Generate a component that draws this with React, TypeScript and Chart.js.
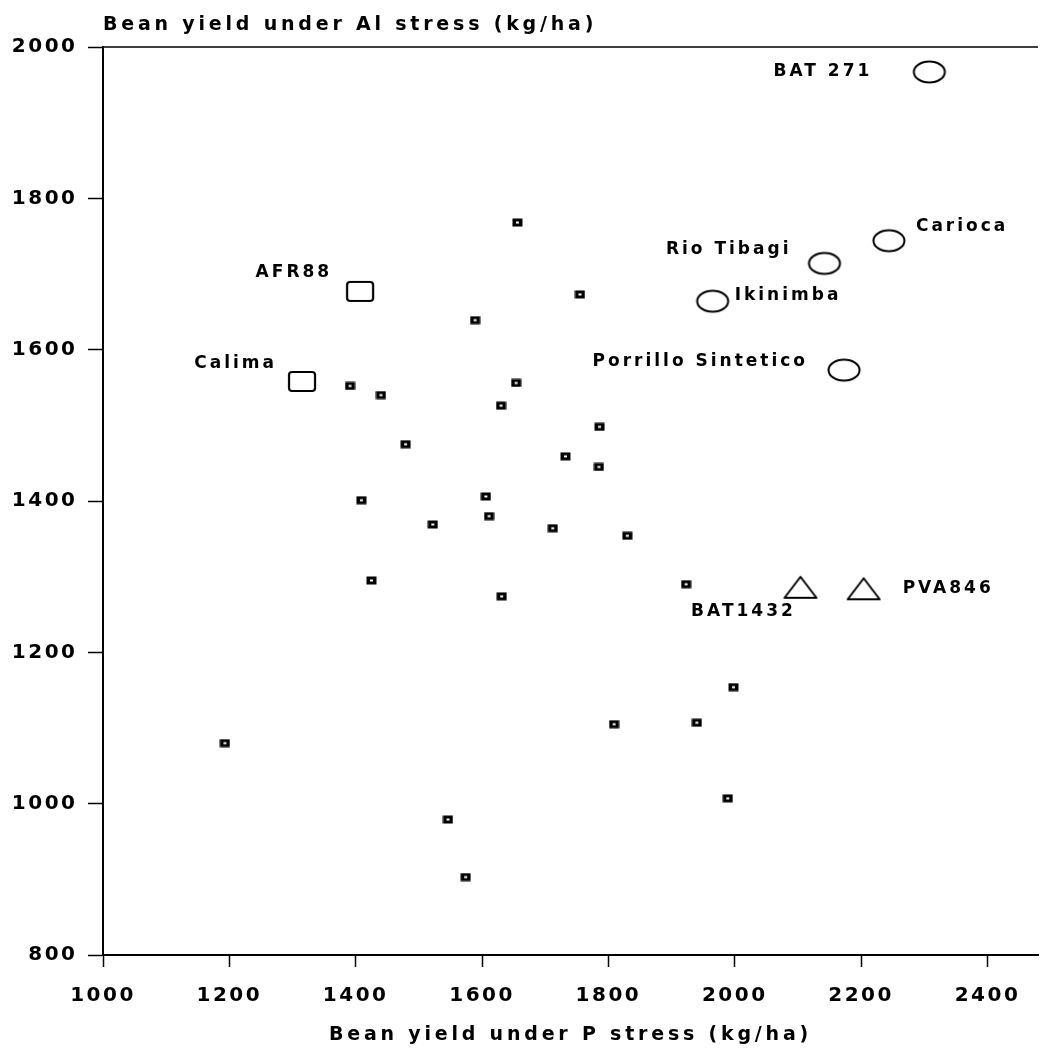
import React, { useEffect, useRef } from 'react';
import { Chart, registerables } from 'chart.js';

Chart.register(...registerables);

// ---- axis setup ----
const xTicks = [1000, 1200, 1400, 1600, 1800, 2000, 2200, 2400];
const yTicks = [800, 1000, 1200, 1400, 1600, 1800, 2000];
const X_MIN = 1000;
const X_MAX = 2480;
const Y_MIN = 800;
const Y_MAX = 2000;

const yTitle = 'Bean yield under Al stress (kg/ha)';
const xTitle = 'Bean yield under P stress (kg/ha)';

// ---- unlabeled genotypes ----
const otherX = [1656, 1755, 1589, 1391, 1440, 1654, 1630, 1786, 1479, 1732, 1785, 1409, 1606, 1611, 1522, 1712, 1830, 1425, 1631, 1923, 1998, 1809, 1940, 1193, 1989, 1546, 1574];
const otherY = [1768, 1673, 1639, 1552, 1540, 1556, 1526, 1498, 1475, 1459, 1445, 1401, 1406, 1380, 1369, 1364, 1354, 1295, 1274, 1290, 1154, 1105, 1107, 1080, 1007, 979, 903];

// ---- labeled genotypes (ellipses) ----
const circleNames = ['BAT 271', 'Carioca', 'Rio Tibagi', 'Ikinimba', 'Porrillo Sintetico'];
const circleX = [2308, 2244, 2142, 1965, 2173];
const circleY = [1967, 1744, 1714, 1664, 1573];

// ---- labeled genotypes (squares) ----
const squareNames = ['AFR88', 'Calima'];
const squareX = [1407, 1315];
const squareY = [1677, 1558];

// ---- labeled genotypes (triangles) ----
const triangleNames = ['BAT1432', 'PVA846'];
const triangleX = [2104, 2204];
const triangleY = [1286, 1284];

// label placement (style only)
const labelPlace: Record<string, { align: CanvasTextAlign; dx: number; dy: number }> = {
  'BAT 271': { align: 'right', dx: -57, dy: 0 },
  'Carioca': { align: 'left', dx: 27, dy: -14 },
  'Rio Tibagi': { align: 'right', dx: -33, dy: -14 },
  'Ikinimba': { align: 'left', dx: 22, dy: -6 },
  'Porrillo Sintetico': { align: 'right', dx: -36, dy: -9 },
  'AFR88': { align: 'right', dx: -28, dy: -19 },
  'Calima': { align: 'right', dx: -25, dy: -18 },
  'BAT1432': { align: 'center', dx: -57, dy: 24 },
  'PVA846': { align: 'left', dx: 39, dy: 0 },
};

const FONT = '"DejaVu Sans", "Liberation Sans", sans-serif';

function mk(w: number, h: number, draw: (g: CanvasRenderingContext2D) => void) {
  const c = document.createElement('canvas');
  c.width = w;
  c.height = h;
  const g = c.getContext('2d')!;
  draw(g);
  return c;
}

export default function App() {
  const ref = useRef<HTMLCanvasElement>(null);

  useEffect(() => {
    const canvas = ref.current!;
    const smallM = mk(11, 9, (g) => {
      g.fillStyle = '#000';
      g.fillRect(0.5, 0.5, 10, 8);
      g.fillStyle = '#fff';
      g.fillRect(4, 3.5, 3, 2);
    });
    const circleM = mk(36, 26, (g) => {
      g.strokeStyle = '#000';
      g.lineWidth = 2;
      g.beginPath();
      g.ellipse(18, 13, 15.5, 10.5, 0, 0, Math.PI * 2);
      g.stroke();
    });
    const squareM = mk(30, 23, (g) => {
      g.strokeStyle = '#000';
      g.lineWidth = 2.2;
      g.beginPath();
      (g as any).roundRect ? (g as any).roundRect(2, 2, 26, 19, 3) : g.rect(2, 2, 26, 19);
      g.stroke();
    });
    const triM = mk(36, 25, (g) => {
      g.strokeStyle = '#000';
      g.lineWidth = 2;
      g.lineJoin = 'round';
      g.beginPath();
      g.moveTo(18, 2);
      g.lineTo(34, 23);
      g.lineTo(2, 23);
      g.closePath();
      g.stroke();
    });

    const textPlugin = {
      id: 'textPlugin',
      beforeDraw(chart: any) {
        (chart.ctx as any).letterSpacing = '2.5px';
      },
      afterDraw(chart: any) {
        const ctx = chart.ctx as CanvasRenderingContext2D;
        const { left, right, top } = chart.chartArea;
        const xs = chart.scales.x;
        const ys = chart.scales.y;
        ctx.save();
        // top frame line
        ctx.strokeStyle = '#000';
        ctx.lineWidth = 1.5;
        ctx.beginPath();
        ctx.moveTo(left, top);
        ctx.lineTo(right, top);
        ctx.stroke();

        // titles
        ctx.fillStyle = '#000';
        (ctx as any).letterSpacing = '3.8px';
        ctx.font = `bold 19px ${FONT}`;
        ctx.textBaseline = 'alphabetic';
        ctx.textAlign = 'left';
        ctx.fillText(yTitle, left, 29.5);
        ctx.textAlign = 'center';
        ctx.fillText(xTitle, (left + right) / 2, 1040);

        // point labels
        (ctx as any).letterSpacing = '3px';
        ctx.font = `bold 17px ${FONT}`;
        ctx.textBaseline = 'middle';
        const groups: [string[], number[], number[]][] = [
          [circleNames, circleX, circleY],
          [squareNames, squareX, squareY],
          [triangleNames, triangleX, triangleY],
        ];
        groups.forEach(([names, gx, gy]) => {
          names.forEach((n, i) => {
            const p = labelPlace[n];
            const px = xs.getPixelForValue(gx[i]);
            const py = ys.getPixelForValue(gy[i]);
            ctx.textAlign = p.align;
            ctx.fillText(n, px + p.dx, py + p.dy);
          });
        });
        ctx.restore();
      },
    };

    const tickFont = { family: FONT, size: 20, weight: 'bold' as const };

    const chart = new Chart(canvas, {
      type: 'scatter',
      data: {
        datasets: [
          {
            label: 'Genotypes',
            data: otherX.map((x, i) => ({ x, y: otherY[i] })),
            pointStyle: smallM as any,
            pointRadius: 5,
          },
          {
            label: 'Ellipse',
            data: circleX.map((x, i) => ({ x, y: circleY[i] })),
            pointStyle: circleM as any,
            pointRadius: 5,
          },
          {
            label: 'Square',
            data: squareX.map((x, i) => ({ x, y: squareY[i] })),
            pointStyle: squareM as any,
            pointRadius: 5,
          },
          {
            label: 'Triangle',
            data: triangleX.map((x, i) => ({ x, y: triangleY[i] })),
            pointStyle: triM as any,
            pointRadius: 5,
          },
        ],
      },
      options: {
        responsive: false,
        animation: false,
        events: [],
        layout: { padding: { top: 47, right: 4, bottom: 0, left: 0 } },
        plugins: {
          legend: { display: false },
          tooltip: { enabled: false },
          title: { display: false },
        },
        scales: {
          x: {
            type: 'linear',
            min: X_MIN,
            max: X_MAX,
            afterBuildTicks: (s: any) => {
              s.ticks = xTicks.map((v) => ({ value: v }));
            },
            afterFit: (s: any) => {
              s.height = 94;
            },
            border: { display: true, color: '#000', width: 2 },
            grid: {
              drawOnChartArea: false,
              drawTicks: true,
              tickLength: 12,
              tickColor: '#000',
              tickWidth: 1.5,
            },
            ticks: {
              color: '#000',
              font: tickFont,
              padding: 17,
              maxRotation: 0,
              autoSkip: false,
              callback: (v: any) => String(v),
            },
          },
          y: {
            type: 'linear',
            min: Y_MIN,
            max: Y_MAX,
            afterBuildTicks: (s: any) => {
              s.ticks = yTicks.map((v) => ({ value: v }));
            },
            afterFit: (s: any) => {
              s.width = 103;
            },
            border: { display: true, color: '#000', width: 2 },
            grid: {
              drawOnChartArea: false,
              drawTicks: true,
              tickLength: 15,
              tickColor: '#000',
              tickWidth: 1.5,
            },
            ticks: {
              color: '#000',
              font: tickFont,
              padding: 10.5,
              autoSkip: false,
              callback: (v: any) => String(v),
            },
          },
        },
      },
      plugins: [textPlugin],
    });

    return () => chart.destroy();
  }, []);

  return (
    <div style={{ position: 'absolute', left: 0, top: 0, width: 1044, height: 1049, background: '#fff' }}>
      <canvas ref={ref} width={1044} height={1049} style={{ display: 'block' }} />
    </div>
  );
}
